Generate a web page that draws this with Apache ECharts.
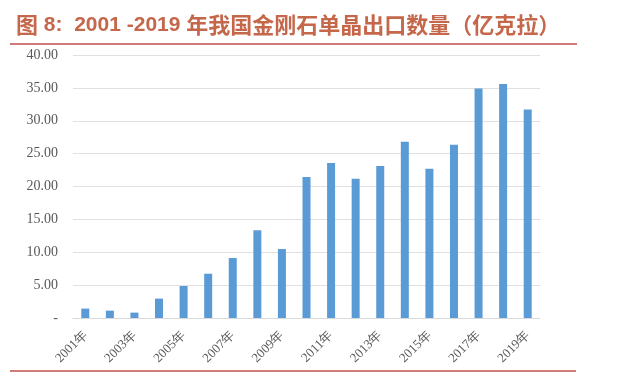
<!DOCTYPE html>
<html>
<head>
<meta charset="utf-8">
<script src="https://cdn.jsdelivr.net/npm/echarts@6/dist/echarts.min.js"></script>
<style>html,body{margin:0;padding:0;background:#fff}#c{width:625px;height:387px}</style>
</head>
<body>
<div id="c"></div>
<script>
var titleHead = '图';
var titleNum = ' 8:  2001 -2019 ';
var titleTail = '年我国金刚石单晶出口数量（亿克拉）';
var years = ['2001年','2002年','2003年','2004年','2005年','2006年','2007年','2008年','2009年','2010年','2011年','2012年','2013年','2014年','2015年','2016年','2017年','2018年','2019年'];
var exportsVol = [1.43, 1.12, 0.82, 2.95, 4.87, 6.74, 9.12, 13.33, 10.49, 21.43, 23.56, 21.18, 23.1, 26.8, 22.7, 26.35, 34.9, 35.6, 31.7];
var yTicks = [0, 5, 10, 15, 20, 25, 30, 35, 40];

var chart = echarts.init(document.getElementById('c'));
chart.setOption({
  animation: false,
  title: {
    text: '{c|' + titleHead + '}{l|' + titleNum + '}{c|' + titleTail + '}',
    left: 11, top: 7,
    textStyle: {
      fontWeight: 'bold', color: '#c4674a', lineHeight: 26,
      rich: {
        c: {fontFamily: 'Noto Sans CJK SC', fontWeight: 'bold', fontSize: 22, color: '#c4674a', lineHeight: 26},
        l: {fontFamily: 'Liberation Sans', fontWeight: 'bold', fontSize: 21, color: '#c4674a', lineHeight: 26}
      }
    }
  },
  graphic: [
    {type: 'line', shape: {x1: 10, y1: 44, x2: 577, y2: 44}, style: {stroke: '#c0504d', lineWidth: 1.5}},
    {type: 'line', shape: {x1: 10, y1: 371, x2: 576, y2: 371}, style: {stroke: '#c0504d', lineWidth: 1.5}}
  ],
  grid: {left: 73, right: 85, top: 55, bottom: 69, containLabel: false},
  xAxis: {
    type: 'category',
    data: years,
    axisLine: {lineStyle: {color: '#d9d9d9'}},
    axisTick: {show: false},
    axisLabel: {interval: 1, rotate: 45, fontFamily: 'Liberation Serif', fontSize: 13, color: '#595959', margin: 15}
  },
  yAxis: {
    type: 'value',
    min: yTicks[0], max: yTicks[yTicks.length - 1], interval: 5,
    axisLine: {show: false},
    axisTick: {show: false},
    splitLine: {lineStyle: {color: '#e0e0e0'}},
    axisLabel: {
      fontFamily: 'Liberation Serif', fontSize: 14, color: '#595959', margin: 15,
      formatter: function (v) { return v === 0 ? '-' : v.toFixed(2); }
    }
  },
  series: [{
    type: 'bar',
    data: exportsVol,
    barWidth: 8,
    itemStyle: {color: '#5b9bd5'}
  }]
});
</script>
</body>
</html>
